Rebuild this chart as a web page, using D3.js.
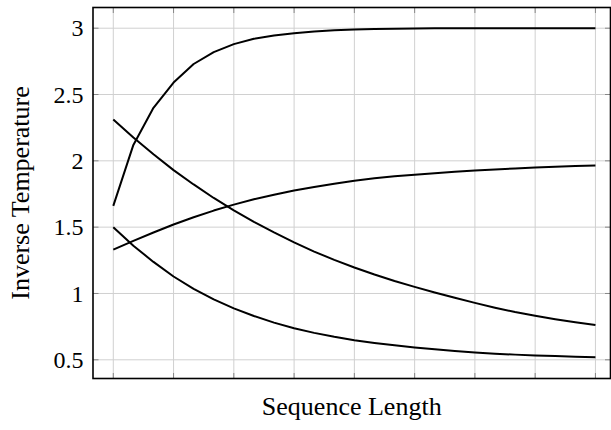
<!DOCTYPE html>
<html>
<head>
<meta charset="utf-8">
<script src="https://cdn.jsdelivr.net/npm/d3@7"></script>
<style>
  body { margin: 0; background: #fff; }
  svg { display: block; }
</style>
</head>
<body>
<svg id="chart" width="611" height="430"></svg>
<script>
var seqLen = [1,2,3,4,5,6,7,8,9,10,11,12,13,14,15,16,17,18,19,20,21,22,23,24,25]
var xTicks = [1,4,7,10,13,16,19,22,25]
var yTicks = [0.5,1,1.5,2,2.5,3]

var curveA = [1.66,2.12,2.40,2.59,2.73,2.82,2.88,2.92,2.945,2.962,2.975,2.984,2.99,2.994,2.996,2.998,2.999,3,3,3,3,3,3,3,3]
var curveB = [2.311,2.176,2.05,1.93,1.822,1.72,1.627,1.54,1.46,1.385,1.316,1.253,1.196,1.143,1.094,1.05,1.008,0.968,0.929,0.893,0.86,0.832,0.806,0.783,0.763]
var curveC = [1.331,1.397,1.46,1.52,1.575,1.625,1.67,1.71,1.745,1.776,1.803,1.828,1.85,1.868,1.883,1.896,1.907,1.918,1.927,1.935,1.943,1.95,1.956,1.961,1.965]
var curveD = [1.5,1.36,1.238,1.128,1.035,0.955,0.888,0.83,0.78,0.738,0.703,0.673,0.648,0.627,0.609,0.593,0.579,0.566,0.555,0.546,0.539,0.533,0.528,0.523,0.519]
var series = [curveA, curveB, curveC, curveD]

var box = {left: 93, top: 7.5, right: 610.5, bottom: 378.5}
var serif = "'Liberation Serif', serif"

var x = d3.scaleLinear().domain([-0.01, 25.75]).range([box.left, box.right])
var y = d3.scaleLinear().domain([0.359, 3.156]).range([box.bottom, box.top])

var svg = d3.select('#chart')

// grid
svg.append('g').selectAll('line')
   .data(xTicks).enter().append('line')
   .attr('x1', function(d){ return x(d) }).attr('x2', function(d){ return x(d) })
   .attr('y1', box.top).attr('y2', box.bottom)
   .style('stroke', '#d0d0d0').style('stroke-width', 1)

svg.append('g').selectAll('line')
   .data(yTicks).enter().append('line')
   .attr('y1', function(d){ return y(d) }).attr('y2', function(d){ return y(d) })
   .attr('x1', box.left).attr('x2', box.right)
   .style('stroke', '#d0d0d0').style('stroke-width', 1)

// ticks (inward, all four sides)
var tickLen = 5.5
var ticks = svg.append('g').style('stroke', '#888').style('stroke-width', 1)
xTicks.forEach(function(d){
  ticks.append('line').attr('x1', x(d)).attr('x2', x(d)).attr('y1', box.bottom).attr('y2', box.bottom - tickLen)
  ticks.append('line').attr('x1', x(d)).attr('x2', x(d)).attr('y1', box.top).attr('y2', box.top + tickLen)
})
yTicks.forEach(function(d){
  ticks.append('line').attr('y1', y(d)).attr('y2', y(d)).attr('x1', box.left).attr('x2', box.left + tickLen)
  ticks.append('line').attr('y1', y(d)).attr('y2', y(d)).attr('x1', box.right).attr('x2', box.right - tickLen)
})

// y tick labels
svg.append('g').selectAll('text')
   .data(yTicks).enter().append('text')
   .text(function(d){ return d })
   .attr('x', 83.5)
   .attr('y', function(d){ return y(d) })
   .attr('dy', '0.34em')
   .attr('font-family', serif)
   .attr('font-size', 24)
   .attr('text-anchor', 'end')

// curves
var line = d3.line()
  .x(function(d, i){ return x(seqLen[i]) })
  .y(function(d){ return y(d) })

svg.append('g').selectAll('path')
   .data(series).enter().append('path')
   .attr('d', line)
   .style('fill', 'none')
   .style('stroke', '#000')
   .style('stroke-width', 2)
   .style('stroke-linejoin', 'round')

// frame
svg.append('rect')
   .attr('x', box.left).attr('y', box.top)
   .attr('width', box.right - box.left).attr('height', box.bottom - box.top)
   .style('fill', 'none').style('stroke', '#000').style('stroke-width', 1.6)

// axis labels
svg.append('text')
   .text('Sequence Length')
   .attr('x', (box.left + box.right) / 2)
   .attr('y', 415)
   .attr('font-family', serif)
   .attr('font-size', 26)
   .attr('text-anchor', 'middle')

svg.append('text')
   .text('Inverse Temperature')
   .attr('transform', 'translate(29,' + ((box.top + box.bottom) / 2) + ') rotate(-90)')
   .attr('font-family', serif)
   .attr('font-size', 26)
   .attr('text-anchor', 'middle')
</script>
</body>
</html>
